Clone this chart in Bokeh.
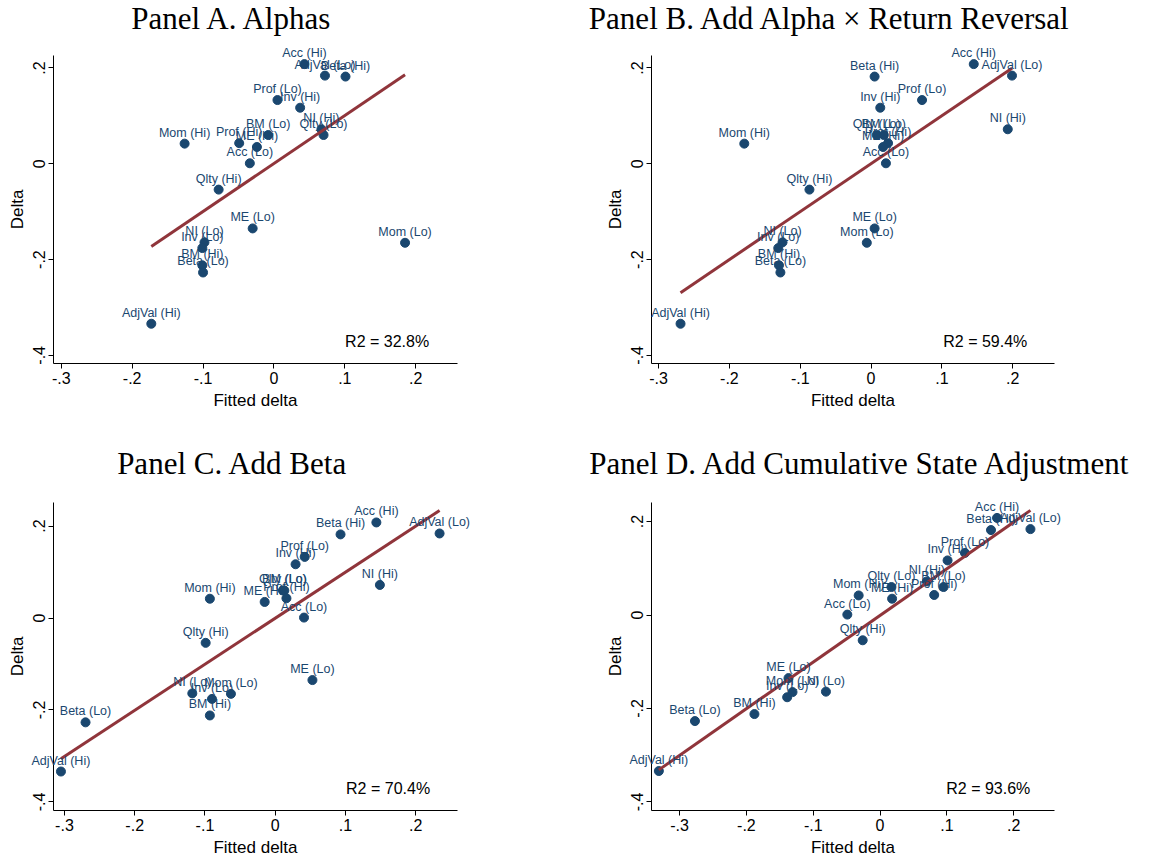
import numpy as np
from bokeh.plotting import figure
from bokeh.models import ColumnDataSource, FixedTicker, Label, LabelSet, Range1d
from bokeh.layouts import column, row
from bokeh.embed import file_html
from bokeh.resources import INLINE
from bokeh.core.properties import value

# ---------------- data ----------------
portfolios = ["Acc (Hi)", "AdjVal (Lo)", "Beta (Hi)", "Prof (Lo)", "Inv (Hi)",
              "NI (Hi)", "Qlty (Lo)", "BM (Lo)", "Mom (Hi)", "Prof (Hi)",
              "ME (Hi)", "Acc (Lo)", "Qlty (Hi)", "ME (Lo)", "NI (Lo)",
              "Mom (Lo)", "Inv (Lo)", "BM (Hi)", "Beta (Lo)", "AdjVal (Hi)"]
delta = [0.208, 0.184, 0.182, 0.133, 0.117,
         0.072, 0.060, 0.060, 0.042, 0.043,
         0.035, 0.001, -0.054, -0.135, -0.164,
         -0.165, -0.176, -0.212, -0.227, -0.334]
fitted_a = [0.043, 0.072, 0.101, 0.005, 0.037,
            0.067, 0.070, -0.008, -0.126, -0.049,
            -0.024, -0.034, -0.078, -0.030, -0.098,
            0.185, -0.101, -0.101, -0.100, -0.173]
fitted_b = [0.145, 0.199, 0.005, 0.072, 0.013,
            0.193, 0.008, 0.018, -0.179, 0.024,
            0.017, 0.021, -0.087, 0.005, -0.125,
            -0.006, -0.131, -0.130, -0.128, -0.269]
fitted_c = [0.144, 0.234, 0.093, 0.042, 0.029,
            0.149, 0.011, 0.013, -0.093, 0.016,
            -0.015, 0.041, -0.099, 0.053, -0.118,
            -0.063, -0.090, -0.093, -0.270, -0.305]
fitted_d = [0.175, 0.225, 0.166, 0.127, 0.101,
            0.070, 0.017, 0.095, -0.032, 0.081,
            0.018, -0.049, -0.026, -0.137, -0.081,
            -0.131, -0.139, -0.188, -0.277, -0.331]

titles = ["Panel A. Alphas",
          "Panel B. Add Alpha \u00d7 Return Reversal",
          "Panel C. Add Beta",
          "Panel D. Add Cumulative State Adjustment"]
r2_texts = ["R2 = 32.8%", "R2 = 59.4%", "R2 = 70.4%", "R2 = 93.6%"]
x_ticks = [-0.3, -0.2, -0.1, 0.0, 0.1, 0.2]
x_tick_labels = ["-.3", "-.2", "-.1", "0", ".1", ".2"]
y_ticks = [-0.4, -0.2, 0.0, 0.2]
y_tick_labels = ["-.4", "-.2", "0", ".2"]

NAVY = "#1a476f"
MAROON = "#90353b"
SANS = "Liberation Sans"
SERIF = "Liberation Serif"


def make_panel(fitted, title, r2, W, H, box, xr, yr, title_dx, title_gap, r2_pos):
    # box = (left, top, width, height) of the plot region in canvas pixels
    L, T, fw, fh = box
    sx = (xr[1] - xr[0]) / fw
    sy = (yr[1] - yr[0]) / fh
    full_x = (xr[0] - L * sx, xr[1] + (W - L - fw) * sx)
    full_y = (yr[0] - (H - T - fh) * sy, yr[1] + T * sy)

    p = figure(width=W, height=H, output_backend="svg", toolbar_location=None,
               x_range=Range1d(*full_x), y_range=Range1d(*full_y),
               min_border=0)
    p.outline_line_color = None
    p.background_fill_color = "white"
    p.border_fill_color = "white"
    p.xgrid.visible = False
    p.ygrid.visible = False

    p.xaxis.fixed_location = yr[0]
    p.yaxis.fixed_location = xr[0]
    p.xaxis.bounds = (xr[0], xr[1])
    p.yaxis.bounds = (yr[0], yr[1])

    for ax in (p.xaxis[0], p.yaxis[0]):
        ax.axis_line_color = "black"
        ax.axis_line_width = 1
        ax.major_tick_line_color = "black"
        ax.major_tick_out = 5
        ax.major_tick_in = 0
        ax.minor_tick_line_color = None
        ax.major_label_text_font = SANS
        ax.major_label_text_font_size = "16px"
        ax.major_label_text_color = "black"
        ax.axis_label_text_font = SANS
        ax.axis_label_text_font_size = "17px"
        ax.axis_label_text_font_style = "normal"
        ax.axis_label_text_color = "black"
        ax.major_label_standoff = 3
        ax.axis_label_standoff = 4

    p.xaxis.ticker = FixedTicker(ticks=x_ticks)
    p.xaxis.major_label_overrides = dict(zip(x_ticks, x_tick_labels))
    p.yaxis.ticker = FixedTicker(ticks=y_ticks)
    p.yaxis.major_label_overrides = dict(zip(y_ticks, y_tick_labels))
    p.yaxis.major_label_orientation = "vertical"
    p.xaxis.axis_label = "Fitted delta"
    p.yaxis.axis_label = "Delta"

    src = ColumnDataSource(dict(x=fitted, y=delta, name=portfolios))
    p.scatter("x", "y", source=src, size=9, fill_color=NAVY, line_color=NAVY)
    p.add_layout(LabelSet(x="x", y="y", text="name", source=src,
                          text_align="center", text_baseline="alphabetic",
                          y_offset=7, text_font=value(SANS),
                          text_font_size="12.5px", text_color=NAVY))

    xs = np.array(fitted)
    ys = np.array(delta)
    slope, intercept = np.polyfit(xs, ys, 1)
    lx = np.array([xs.min(), xs.max()])
    p.line(lx, intercept + slope * lx, line_color=MAROON, line_width=3)

    p.add_layout(Label(x=r2_pos[0], y=r2_pos[1], text=r2, text_align="right",
                       text_baseline="middle", text_font=SANS,
                       text_font_size="16px", text_color="black"))
    p.add_layout(Label(x=L + title_dx, y=H - (T - title_gap), x_units="screen", y_units="screen",
                       text=title, text_align="center", text_baseline="alphabetic",
                       text_font=SERIF, text_font_size="31px", text_color="black"))
    return p


W1, W2 = 555, 615
H1, H2 = 430, 427

pa = make_panel(fitted_a, titles[0], r2_texts[0], W1, H1, (53, 55, 404, 308),
                (-0.311, 0.259), (-0.417, 0.226), 179, 37, (0.219, -0.372))
pb = make_panel(fitted_b, titles[1], r2_texts[1], W2, H1, (96, 55, 403, 308),
                (-0.310, 0.259), (-0.417, 0.226), 179, 37, (0.2206, -0.3715))
pc = make_panel(fitted_c, titles[2], r2_texts[2], W1, H2, (53, 72, 404, 308),
                (-0.3156, 0.2595), (-0.4188, 0.2514), 179, 39, (0.2205, -0.3717))
pd = make_panel(fitted_d, titles[3], r2_texts[3], W2, H2, (96, 72, 403, 308),
                (-0.342, 0.261), (-0.4185, 0.241), 209, 39, (0.2248, -0.3723))

layout = column(row(pa, pb), row(pc, pd))
open("out.html", "w").write(file_html(layout, INLINE))
